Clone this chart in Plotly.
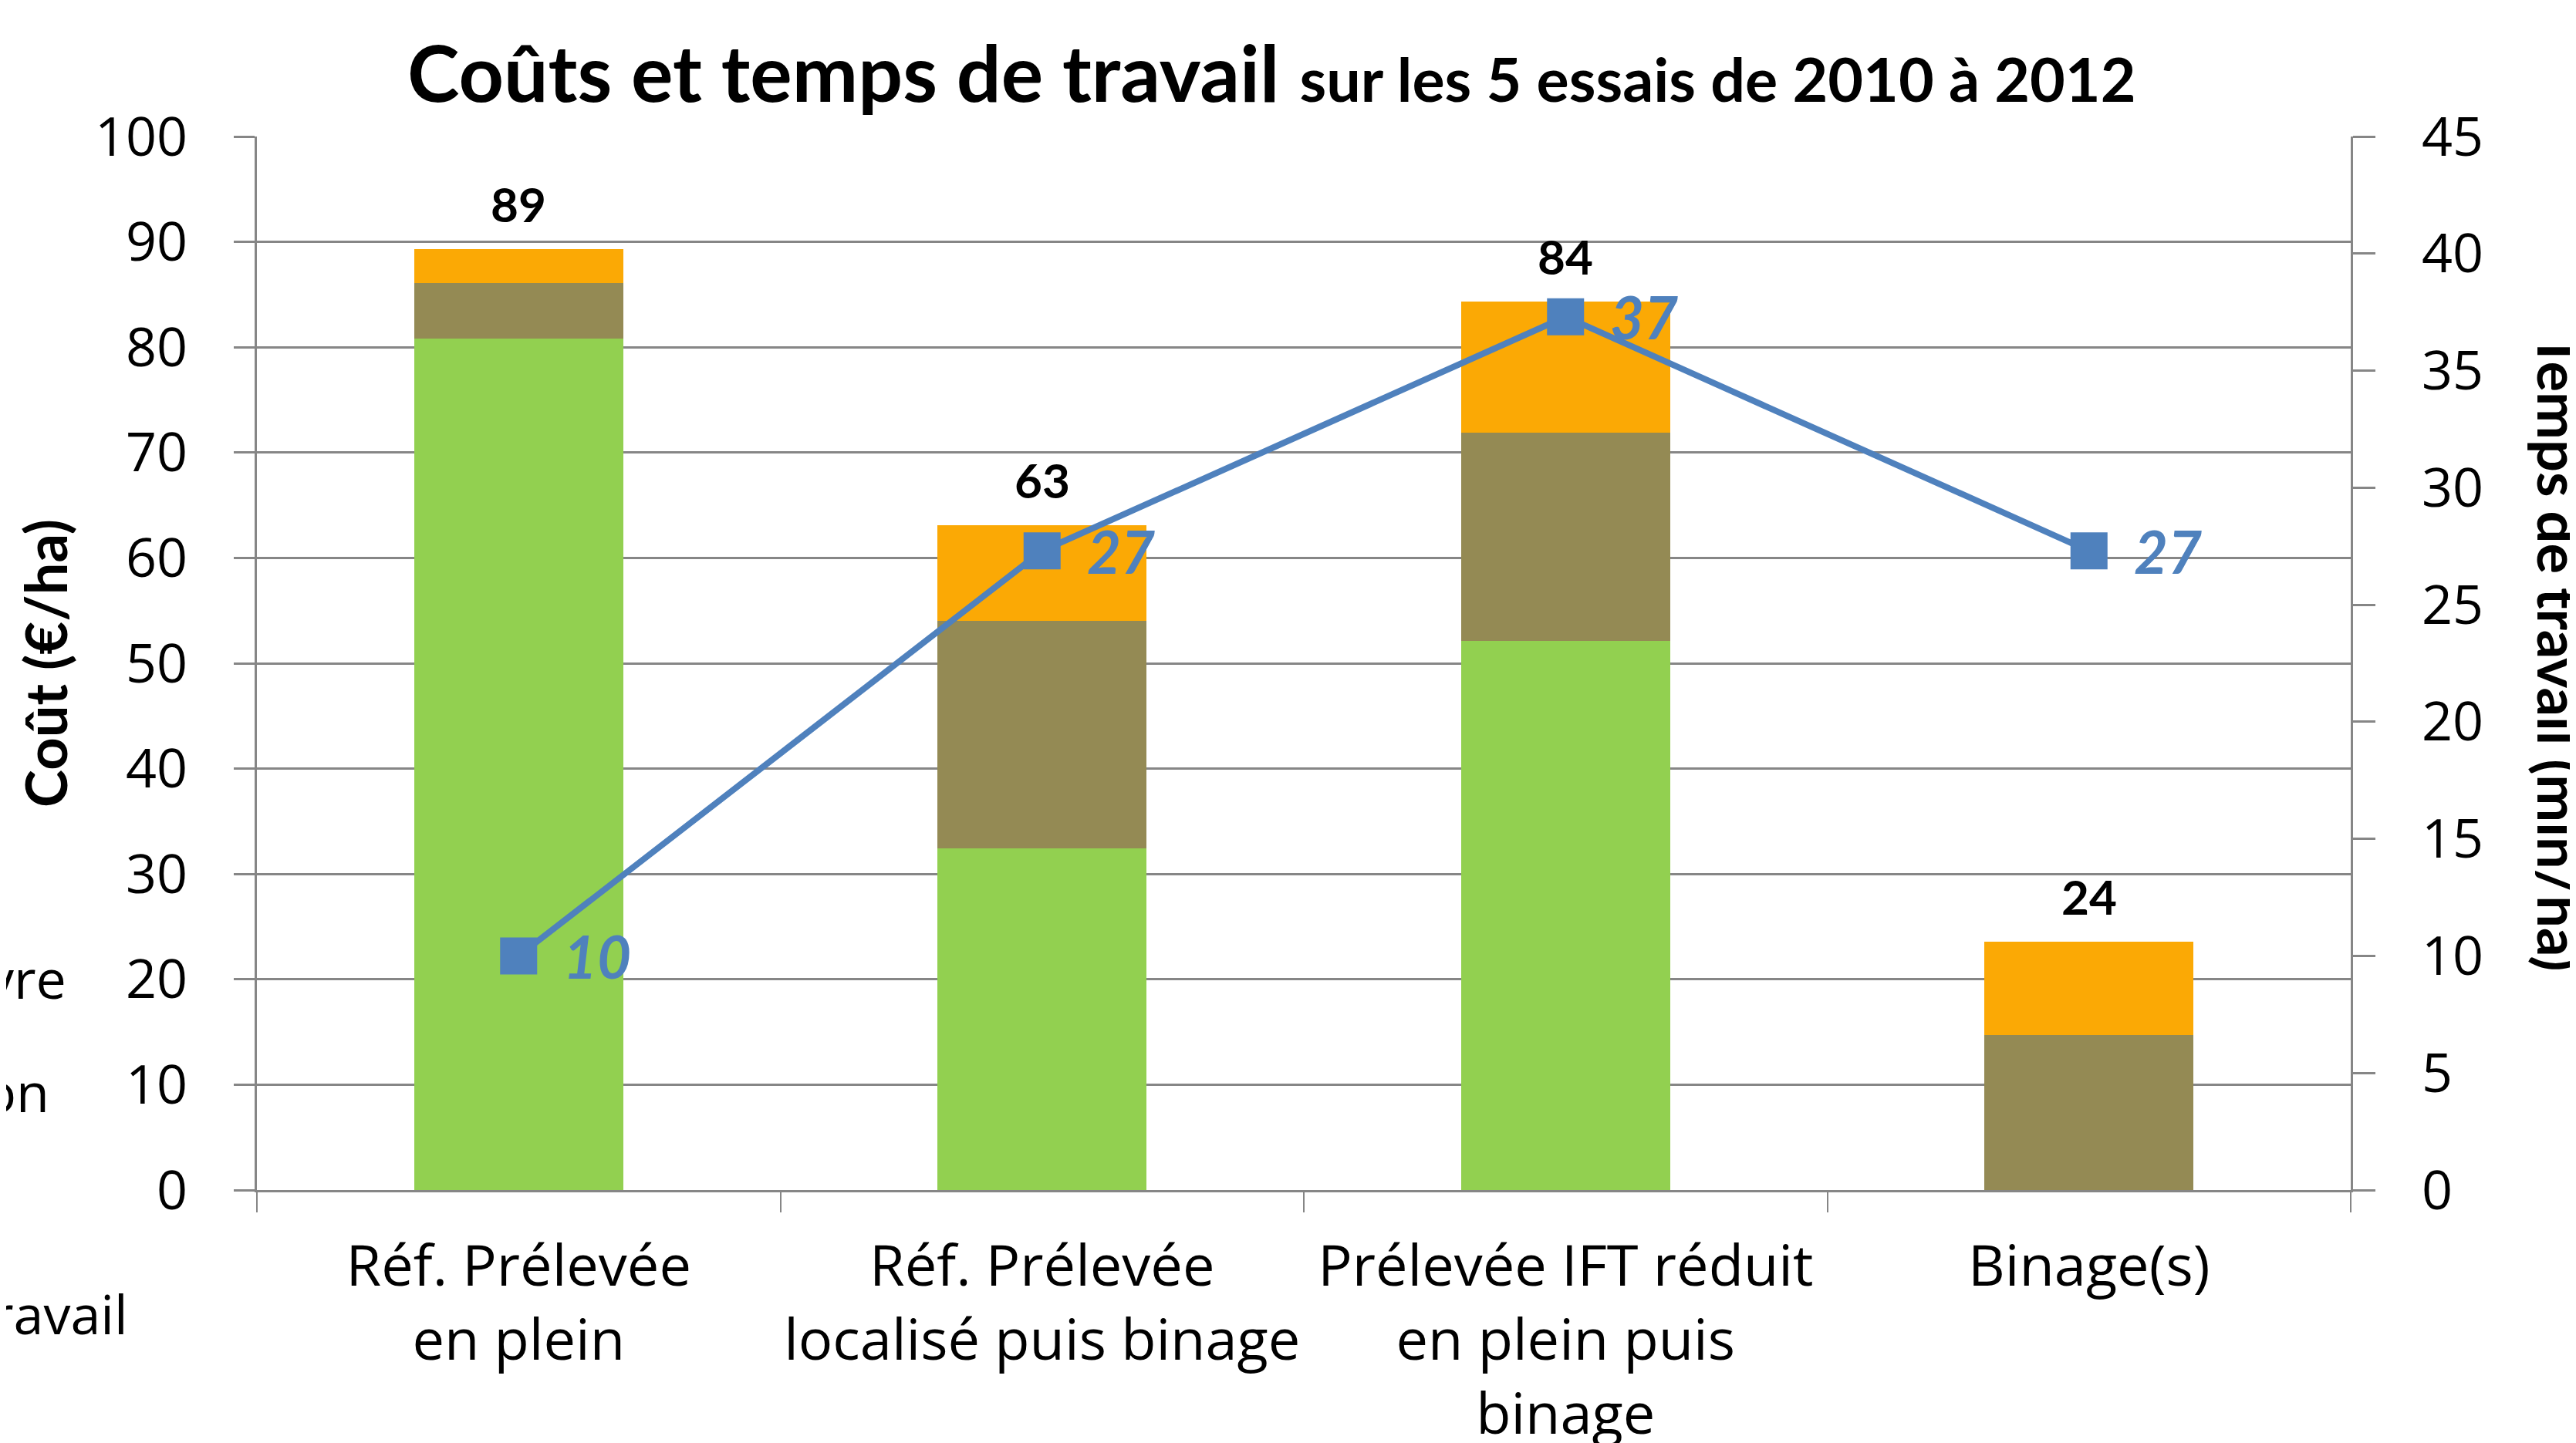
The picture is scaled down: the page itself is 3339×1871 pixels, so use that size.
import plotly.graph_objects as go

# ---- data ----
categories = [
    "Réf. Prélevée<br>en plein",
    "Réf. Prélevée<br>localisé puis binage",
    "Prélevée IFT réduit<br>en plein puis<br>binage",
    "Binage(s)",
]
produits = [80.8, 32.4, 52.1, 0.0]        # green
traction = [5.3, 21.6, 19.8, 14.7]        # olive
main_oeuvre = [3.2, 9.1, 12.4, 8.9]       # orange
temps_travail = [10.0, 27.3, 37.3, 27.3]  # min/ha (right axis)
totaux = [a + b + c for a, b, c in zip(produits, traction, main_oeuvre)]

left_ticks = list(range(0, 101, 10))
right_ticks = list(range(0, 46, 5))
legend_fragments = ["vre", "on", "ravail"]

W, H = 3339, 1871
OFF = 8  # page body margin offset
L, R, T, B = 333, 292, 177, 328   # screen-pixel plot box
PW, PH = W - L - R, H - T - B

def px_x(p):
    return (p - L) / PW

def px_y(p):
    return (H - B - p) / PH

GRID = "#868686"
TICKFONT = dict(family="Open Sans", size=70, color="black")
XTICKFONT = dict(family="Open Sans", size=74, color="black")

fig = go.Figure()
fig.add_trace(go.Bar(x=categories, y=produits, name="Produits",
                     marker=dict(color="#92D050", line=dict(width=0))))
fig.add_trace(go.Bar(x=categories, y=traction, name="Traction",
                     marker=dict(color="#948A54", line=dict(width=0))))
fig.add_trace(go.Bar(x=categories, y=main_oeuvre, name="Main d'œuvre",
                     marker=dict(color="#FBA905", line=dict(width=0))))
fig.add_trace(go.Scatter(x=categories, y=temps_travail, name="Temps de travail",
                         yaxis="y2", mode="lines+markers",
                         line=dict(color="#4F81BD", width=8),
                         marker=dict(symbol="square", size=48, color="#4F81BD")))

annotations = []
for c, t in zip(categories, totaux):
    annotations.append(dict(x=c, y=t, xref="x", yref="y", text=f"<b>{t:.0f}</b>",
                            showarrow=False, yanchor="bottom", xanchor="center", yshift=20,
                            font=dict(family="Lato", size=62, color="black")))
for c, v in zip(categories, temps_travail):
    annotations.append(dict(x=c, y=v, xref="x", yref="y2", text=f"<b><i>{v:.0f}</i></b>",
                            showarrow=False, yanchor="middle", xanchor="left", xshift=56,
                            font=dict(family="Lato", size=76, color="#4F81BD")))
annotations.append(dict(x=px_x(58), y=px_y(860), xref="paper", yref="paper",
                        text="<b>Coût (€/ha)</b>", textangle=-90, showarrow=False,
                        xanchor="center", yanchor="middle",
                        font=dict(family="Lato", size=74, color="black")))
annotations.append(dict(x=px_x(3318), y=px_y(846), xref="paper", yref="paper",
                        text="<b>Temps de travail (min/ha)</b>", textangle=90, showarrow=False,
                        xanchor="center", yanchor="middle",
                        font=dict(family="Lato", size=74, color="black")))
for txt, ypx, xr in zip(legend_fragments, [1268, 1415, 1703], [88, 66, 168]):
    annotations.append(dict(x=px_x(xr), y=px_y(ypx), xref="paper", yref="paper",
                            text=txt, showarrow=False, xanchor="right", yanchor="middle",
                            font=TICKFONT))

fig.update_layout(
    width=W, height=H,
    margin=dict(l=L - OFF, r=R + OFF, t=T - OFF, b=B + OFF, autoexpand=False),
    paper_bgcolor="white", plot_bgcolor="white",
    barmode="stack", bargap=0.6,
    showlegend=False,
    title=dict(
        text="<b>Coûts et temps de travail</b> <b><span style='font-size:79px'>sur les 5 essais de 2010 à 2012</span></b>",
        x=px_x(528), xanchor="left", xref="paper",
        y=1 - (96 - OFF) / H, yanchor="middle", yref="container",
        font=dict(family="Lato", size=102, color="black"),
    ),
    xaxis=dict(
        type="category", tickfont=XTICKFONT, tickangle=0,
        showline=True, linecolor=GRID, linewidth=3,
        ticks="outside", tickson="boundaries", ticklen=26, tickwidth=2, tickcolor=GRID,
        ticklabelstandoff=32, showgrid=False,
    ),
    yaxis=dict(
        range=[0, 100], tickvals=left_ticks, tickfont=TICKFONT,
        showline=True, linecolor=GRID, linewidth=3,
        ticks="outside", ticklen=27, tickwidth=2.5, tickcolor=GRID,
        showgrid=True, gridcolor=GRID, gridwidth=2.5, zeroline=False,
        ticklabelstandoff=46,
    ),
    yaxis2=dict(
        range=[0, 45], tickvals=right_ticks, tickfont=TICKFONT,
        overlaying="y", side="right",
        showline=True, linecolor=GRID, linewidth=3,
        ticks="outside", ticklen=29, tickwidth=2.5, tickcolor=GRID,
        showgrid=False, zeroline=False, ticklabelstandoff=46,
    ),
    annotations=annotations,
)

fig.write_html("out.html")
